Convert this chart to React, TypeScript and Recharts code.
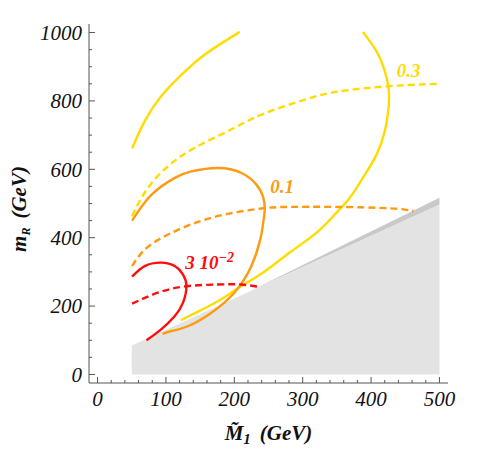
import { ComposedChart, Line, Area, XAxis, YAxis, ReferenceDot } from 'recharts'

// contour lines as (M1, mR) points in GeV
const yellowSolidLeft = [
  { x: 50.5, y: 661 }, { x: 69, y: 741 }, { x: 93, y: 814 }, { x: 123, y: 877 },
  { x: 157, y: 936 }, { x: 208, y: 1002 },
]
const yellowSolidRight = [
  { x: 388, y: 1002 }, { x: 408, y: 945 }, { x: 420, y: 887 }, { x: 426, y: 828 },
  { x: 425, y: 770 }, { x: 420, y: 711 }, { x: 408, y: 643 }, { x: 388, y: 575 },
  { x: 369, y: 517 }, { x: 347, y: 468 }, { x: 320, y: 414 }, { x: 282, y: 358 },
  { x: 245, y: 302 }, { x: 210, y: 258 }, { x: 181, y: 220 }, { x: 152, y: 189 },
  { x: 122, y: 159 },
]
const yellowDashed = [
  { x: 50.5, y: 463 }, { x: 72, y: 541 }, { x: 103, y: 609 }, { x: 142, y: 663 },
  { x: 191, y: 712 }, { x: 240, y: 760 }, { x: 305, y: 805 }, { x: 354, y: 828 },
  { x: 425, y: 843 }, { x: 500, y: 850 },
]
const orangeSolid = [
  { x: 50.5, y: 450 }, { x: 79, y: 526 }, { x: 113, y: 575 }, { x: 137, y: 594 },
  { x: 176, y: 604 }, { x: 210, y: 590 }, { x: 232, y: 556 }, { x: 242, y: 520 },
  { x: 244.5, y: 482 }, { x: 242, y: 440 }, { x: 238, y: 395 }, { x: 225, y: 317 },
  { x: 200, y: 239 }, { x: 166, y: 180 }, { x: 132, y: 141 }, { x: 108, y: 127 },
  { x: 95, y: 119 },
]
const orangeDashed = [
  { x: 50.5, y: 317 }, { x: 69, y: 365 }, { x: 98, y: 404 }, { x: 137, y: 439 },
  { x: 186, y: 468 }, { x: 242, y: 486 }, { x: 281, y: 490 }, { x: 347, y: 490 },
  { x: 427, y: 486 }, { x: 462, y: 478 },
]
const redSolid = [
  { x: 50.5, y: 286 }, { x: 69, y: 317 }, { x: 93, y: 327 }, { x: 113, y: 317 },
  { x: 125, y: 292 }, { x: 130, y: 258 }, { x: 125, y: 210 }, { x: 113, y: 171 },
  { x: 93, y: 132 }, { x: 71.5, y: 100 },
]
const redDashed = [
  { x: 50.5, y: 207 }, { x: 88, y: 239 }, { x: 130, y: 258 }, { x: 176, y: 263 },
  { x: 210, y: 263 }, { x: 237, y: 256 },
]

// excluded region and its darker edge
const excluded = [{ x: 50, y: 85 }, { x: 500, y: 497 }]
const excludedEdge = [{ x: 220, band: [241, 241] }, { x: 500, band: [497, 517] }]

const xTicks = Array.from({ length: 26 }, (_, i) => i * 20)
const yTicks = Array.from({ length: 21 }, (_, i) => i * 50)

const SERIF = '"Liberation Serif", "Times New Roman", serif'
const FRAME = '#555'
const YELLOW = '#ffdc00'
const ORANGE = '#ff9a10'
const RED = '#ff0d0d'

function BottomTick({ x, y, payload }: any) {
  const major = payload.value % 100 === 0
  return (
    <g>
      <line x1={x} y1={y} x2={x} y2={y - (major ? 6 : 3)} stroke={FRAME} />
      {major && (
        <text x={x} y={y + 23} textAnchor="middle" fontFamily={SERIF} fontStyle="italic" fontSize={21} fill="#111">
          {payload.value}
        </text>
      )}
    </g>
  )
}

function TopTick({ x, y, payload }: any) {
  const major = payload.value % 100 === 0
  return <line x1={x} y1={y} x2={x} y2={y + (major ? 6 : 3)} stroke={FRAME} />
}

function LeftTick({ x, y, payload }: any) {
  const major = payload.value % 200 === 0
  return (
    <g>
      <line x1={x} y1={y} x2={x + (major ? 6 : 3)} y2={y} stroke={FRAME} />
      {major && (
        <text x={x - 7} y={y} dy="0.35em" textAnchor="end" fontFamily={SERIF} fontStyle="italic" fontSize={21} fill="#111">
          {payload.value}
        </text>
      )}
    </g>
  )
}

function RightTick({ x, y, payload }: any) {
  const major = payload.value % 200 === 0
  return <line x1={x} y1={y} x2={x - (major ? 6 : 3)} y2={y} stroke={FRAME} />
}

function XTitle({ viewBox }: any) {
  const cx = viewBox.x + viewBox.width / 2
  return (
    <text x={cx} y={viewBox.y + 57} textAnchor="middle" fontFamily={SERIF} fontStyle="italic" fontWeight="bold" fontSize={21} fill="#111">
      {'M\u0303'}
      <tspan dy={4} fontSize={15}>1</tspan>
      <tspan dy={-4} dx={9}>(GeV)</tspan>
    </text>
  )
}

function YTitle() {
  return (
    <text x={18} y={201} transform="rotate(-90, 18, 201)" textAnchor="middle" fontFamily={SERIF} fontStyle="italic" fontWeight="bold" fontSize={21} fill="#111">
      m
      <tspan dy={4} fontSize={12}>R</tspan>
      <tspan dy={-4} dx={9}>(GeV)</tspan>
    </text>
  )
}

function CurveLabel({ viewBox, text, color, exp }: any) {
  return (
    <text x={viewBox.x} y={viewBox.y} dy="0.35em" textAnchor="middle" fontFamily={SERIF} fontStyle="italic" fontWeight="bold" fontSize={19} fill={color}>
      {text}
      {exp && <tspan dy={-7} fontSize={14}>{exp}</tspan>}
    </text>
  )
}

const curve = (data: any[], color: string, dashed: boolean, key: string) => (
  <Line
    key={key}
    data={data}
    dataKey="y"
    type="natural"
    stroke={color}
    strokeWidth={2.4}
    strokeDasharray={dashed ? '7 4' : undefined}
    dot={false}
    activeDot={false}
    isAnimationActive={false}
  />
)

export default function App() {
  return (
    <ComposedChart width={475} height={442} margin={{ top: 16, right: 35, bottom: 0, left: 0 }}>
      <XAxis
        dataKey="x"
        type="number"
        domain={[-12.5, 512.5]}
        ticks={xTicks}
        interval={0}
        tickSize={0}
        tickMargin={0}
        tickLine={false}
        tick={<BottomTick />}
        height={67}
        stroke={FRAME}
        label={<XTitle />}
      />
      <XAxis
        xAxisId="top"
        orientation="top"
        dataKey="x"
        type="number"
        domain={[-12.5, 512.5]}
        ticks={xTicks}
        interval={0}
        tickSize={0}
        tickMargin={0}
        tickLine={false}
        tick={<TopTick />}
        height={0}
        stroke={FRAME}
      />
      <YAxis
        type="number"
        domain={[-25, 1025]}
        ticks={yTicks}
        interval={0}
        tickSize={0}
        tickMargin={0}
        tickLine={false}
        tick={<LeftTick />}
        width={81}
        stroke={FRAME}
        label={<YTitle />}
      />
      <YAxis
        yAxisId="right"
        orientation="right"
        type="number"
        domain={[-25, 1025]}
        ticks={yTicks}
        interval={0}
        tickSize={0}
        tickMargin={0}
        tickLine={false}
        tick={<RightTick />}
        width={0}
        stroke={FRAME}
      />
      <Area data={excluded} dataKey="y" type="linear" baseValue={0} stroke="none" fill="#e3e3e3" fillOpacity={1} isAnimationActive={false} />
      <Area data={excludedEdge} dataKey="band" type="linear" stroke="none" fill="#c9c9c9" fillOpacity={1} isAnimationActive={false} />
      {curve(yellowSolidLeft, YELLOW, false, 'ysl')}
      {curve(yellowSolidRight, YELLOW, false, 'ysr')}
      {curve(yellowDashed, YELLOW, true, 'yd')}
      {curve(orangeSolid, ORANGE, false, 'os')}
      {curve(orangeDashed, ORANGE, true, 'od')}
      {curve(redSolid, RED, false, 'rs')}
      {curve(redDashed, RED, true, 'rd')}
      <ReferenceDot x={455} y={889} r={0} stroke="none" fill="none" label={<CurveLabel text="0.3" color={YELLOW} />} />
      <ReferenceDot x={270} y={551} r={0} stroke="none" fill="none" label={<CurveLabel text="0.1" color={ORANGE} />} />
      <ReferenceDot x={164} y={327} r={0} stroke="none" fill="none" label={<CurveLabel text="3 10" exp={'\u22122'} color={RED} />} />
    </ComposedChart>
  )
}
